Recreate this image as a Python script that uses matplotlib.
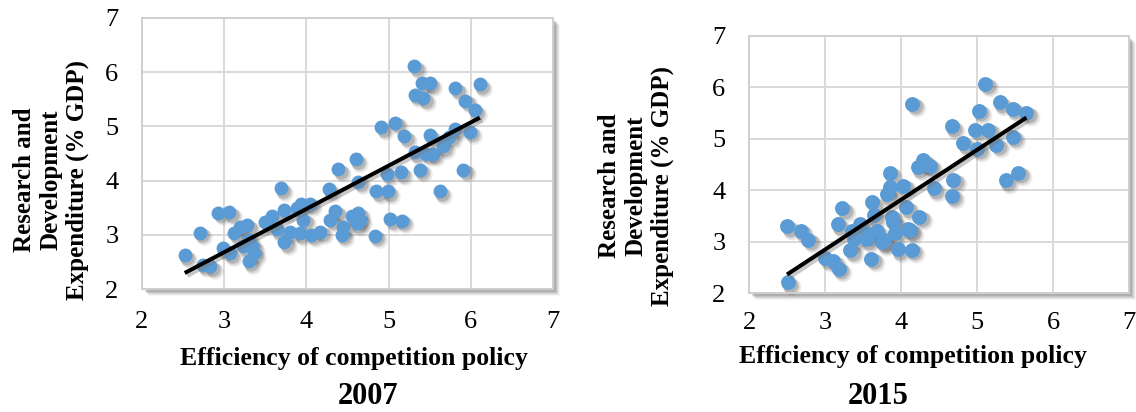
import numpy as np
import matplotlib
matplotlib.use("Agg")
import matplotlib.pyplot as plt
from matplotlib.patches import Rectangle
from matplotlib.transforms import offset_copy

plt.rcParams["font.family"] = ["Liberation Serif", "DejaVu Serif"]

# ---- data ----
x_2007 = [2.52, 2.70, 2.74, 2.83, 2.93, 3.06, 2.98, 3.07, 3.12, 3.19, 3.28, 3.23,
          3.34, 3.30, 3.36, 3.30, 3.50, 3.58, 3.64, 3.69, 3.73, 3.73, 3.80, 3.88,
          3.94, 3.96, 4.04, 4.06, 3.92, 4.17, 4.27, 4.29, 4.35, 4.39, 4.43, 4.45,
          4.55, 4.60, 4.63, 4.63, 4.65, 4.61, 4.83, 4.85, 4.91, 4.99, 4.98, 5.02,
          5.08, 5.15, 5.16, 5.19, 5.31, 5.32, 5.32, 5.38, 5.41, 5.42, 5.50, 5.46,
          5.50, 5.62, 5.66, 5.81, 5.81, 5.74, 5.91, 5.93, 5.99, 6.05, 6.11, 5.54]
y_2007 = [2.62, 3.04, 2.45, 2.42, 3.41, 3.42, 2.75, 2.66, 3.03, 3.15, 3.18, 2.79,
          2.79, 2.51, 2.66, 2.91, 3.23, 3.35, 3.10, 3.86, 3.45, 2.86, 3.06, 3.50,
          3.57, 3.28, 3.57, 3.00, 3.03, 3.06, 3.84, 3.28, 3.43, 4.21, 3.00, 3.15,
          3.34, 4.39, 3.98, 3.40, 3.28, 3.21, 2.98, 3.80, 4.98, 3.80, 4.13, 3.29,
          5.07, 4.15, 3.26, 4.82, 6.11, 4.52, 5.58, 4.20, 5.80, 5.52, 5.80, 4.50,
          4.84, 3.80, 4.63, 5.70, 4.96, 4.81, 4.20, 5.47, 4.90, 5.30, 5.78, 4.50]

x_2015 = [2.51, 2.50, 2.68, 2.78, 3.00, 3.11, 3.18, 3.17, 3.23, 3.33, 3.35, 3.38,
          3.46, 3.55, 3.56, 3.61, 3.62, 3.64, 3.68, 3.75, 3.77, 3.81, 3.85, 3.85,
          3.88, 3.90, 3.92, 3.96, 4.03, 4.07, 4.09, 4.12, 4.14, 4.15, 4.24, 4.22,
          4.29, 4.38, 4.43, 4.31, 4.67, 4.69, 4.67, 4.82, 5.00, 4.98, 5.02, 5.11,
          5.15, 5.25, 5.30, 5.38, 5.47, 5.47, 5.54, 5.65]
y_2015 = [2.21, 3.30, 3.21, 3.04, 2.68, 2.62, 2.47, 3.34, 3.65, 2.83, 3.21, 3.05,
          3.35, 3.05, 3.15, 2.67, 3.77, 3.51, 3.20, 2.99, 3.03, 3.92, 4.34, 4.06,
          3.48, 3.38, 3.16, 2.85, 4.09, 3.67, 3.25, 3.22, 2.84, 5.68, 3.48, 4.45,
          4.58, 4.48, 4.04, 4.52, 5.24, 4.20, 3.89, 4.91, 4.81, 5.18, 5.55, 6.07,
          5.18, 4.88, 5.71, 4.19, 5.58, 5.04, 4.34, 5.51]

ticks = [2, 3, 4, 5, 6, 7]
x_label = "Efficiency of competition policy"
y_label = "Research and\nDevelopment\nExpenditure (% GDP)"
titles = ["2007", "2015"]

W, H = 1136, 412
fig = plt.figure(figsize=(W / 100, H / 100), dpi=100)

BLUE = "#5B9BD5"
GRID = "#D9D9D9"


def px_rect(x0, y0, x1, y1):
    """Pixel box (top-left origin) -> figure fraction [l, b, w, h]."""
    return [x0 / W, 1 - y1 / H, (x1 - x0) / W, (y1 - y0) / H]


def frame_shadow(box):
    l, b, w, h = box
    for off, a in [(7, 0.08), (6, 0.12), (5, 0.16), (4, 0.22), (3, 0.28)]:
        fig.patches.append(Rectangle((l + off / W, b - off / H), w, h,
                                     transform=fig.transFigure,
                                     facecolor="#808080", edgecolor="none",
                                     alpha=a, zorder=0))


def panel(box, xs, ys, msize, title, xl_pos, t_pos, yl_x, yl_y, xpad):
    frame_shadow(box)
    ax = fig.add_axes(box)
    ax.set_zorder(1)
    xs = np.asarray(xs)
    ys = np.asarray(ys)

    # soft marker shadows
    for off, a, grow in [(4.5, 0.10, 1.45), (3.5, 0.16, 1.25), (2.5, 0.26, 1.05)]:
        tr = offset_copy(ax.transData, fig=fig, x=off, y=-off, units="dots")
        ax.scatter(xs, ys, s=msize * grow, color="#555555", alpha=a,
                   linewidths=0, transform=tr, zorder=2, clip_on=False)
    ax.scatter(xs, ys, s=msize, color=BLUE, linewidths=0, zorder=3)

    # linear trend
    k, c = np.polyfit(xs, ys, 1)
    lx = np.array([xs.min(), xs.max()])
    tr = offset_copy(ax.transData, fig=fig, x=2.5, y=-2.5, units="dots")
    ax.plot(lx, k * lx + c, color="#777777", lw=3.4, alpha=0.40,
            solid_capstyle="butt", transform=tr, zorder=4)
    ax.plot(lx, k * lx + c, color="black", lw=2.9, solid_capstyle="butt",
            zorder=5)

    ax.set_xlim(2, 7)
    ax.set_ylim(2, 7)
    ax.set_xticks(ticks)
    ax.set_yticks(ticks)
    ax.grid(True, color=GRID, lw=1.4, zorder=0)
    ax.set_axisbelow(True)
    ax.tick_params(length=0, labelsize=19)
    ax.tick_params(axis="x", pad=xpad)
    ax.tick_params(axis="y", pad=17)
    for s in ax.spines.values():
        s.set_color("#CFCFCF")
        s.set_linewidth(1.4)

    fig.text(xl_pos[0] / W, 1 - xl_pos[1] / H, x_label, ha="center",
             va="center", fontsize=18.5, fontweight="bold")
    fig.text(t_pos[0] / W, 1 - t_pos[1] / H, title, ha="center",
             va="center", fontsize=22, fontweight="bold")
    fig.text(yl_x / W, 1 - yl_y / H, y_label, ha="center", va="center",
             rotation=90, fontsize=18, fontweight="bold",
             multialignment="center", linespacing=1.2)
    return ax


panel(px_rect(142, 18, 553, 289), x_2007, y_2007, 100, titles[0],
      (354, 358), (368, 396), 51, 180, 16)
panel(px_rect(749, 36, 1129, 293), x_2015, y_2015, 115, titles[1],
      (913, 357), (878, 397), 636, 186, 13.5)

fig.savefig("out.png", dpi=100)
